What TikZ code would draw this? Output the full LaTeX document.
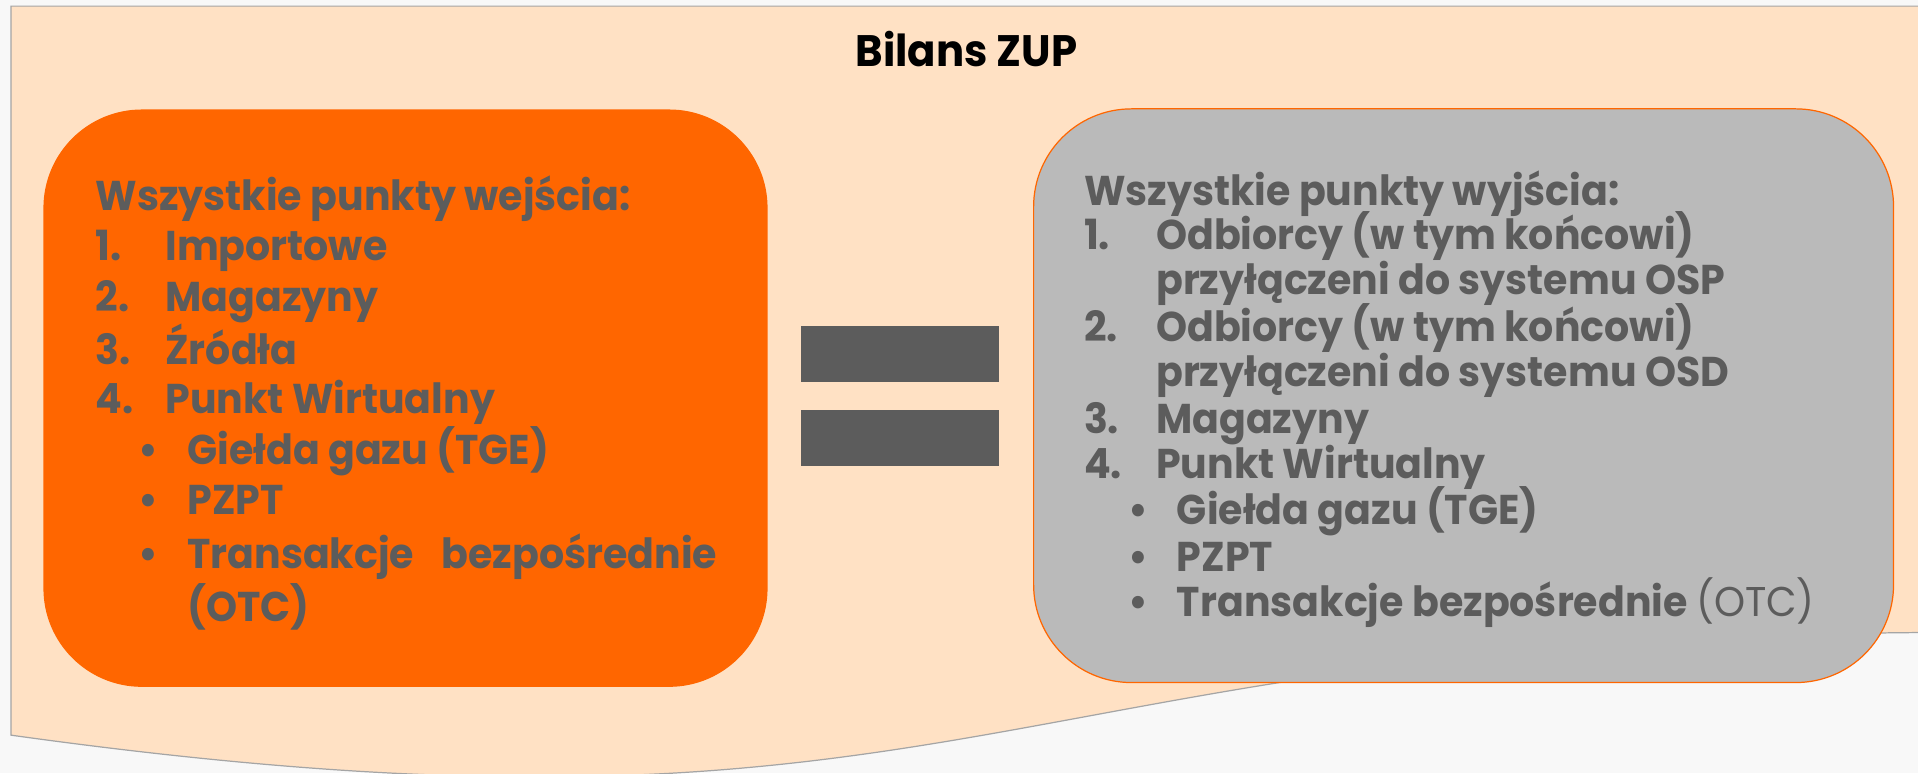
\documentclass[tikz,border=0pt]{standalone}
\usepackage{fontspec}
\setmainfont{Poppins}[FakeStretch=0.95]
\usetikzlibrary{positioning,calc}

\definecolor{pagebg}{RGB}{248,248,248}
\definecolor{peach}{RGB}{255,225,196}
\definecolor{edgegray}{RGB}{165,165,165}
\definecolor{boxorange}{RGB}{255,102,0}
\definecolor{boxgray}{RGB}{186,186,186}
\definecolor{textgray}{RGB}{92,92,92}

\begin{document}
\begin{tikzpicture}[x=1bp,y=-1bp,
  box/.style={draw=boxorange, line width=1bp, rounded corners=80bp, inner sep=0pt},
  bar/.style={fill=textgray, draw=none, minimum width=162bp, minimum height=46bp, inner sep=0pt},
  line/.style={anchor=base west, text=textgray, inner sep=0pt,
    font=\bfseries\fontsize{34bp}{40bp}\selectfont}]
  \useasboundingbox (0,0) rectangle (1568,632);
  \fill[pagebg] (0,0) rectangle (1568,632);
  \clip (0,0) rectangle (1568,632);

  % tlo bilansu
  \draw[fill=peach, draw=edgegray, line width=1bp] (9,5) -- (1603,5) -- (1603,517)
    .. controls (806,517) and (806,712) .. (9,601) -- cycle;
  \node[font=\bfseries\fontsize{36bp}{42bp}\selectfont] (title) at (790,40) {Bilans ZUP};

  % wejscia
  \node[box, fill=boxorange, minimum width=591bp, minimum height=471bp] (entry) at (331.5,325.5) {};
  \node[line] (entryhead) at (78,172) {Wszystkie punkty wejścia:};
  \foreach \y/\n/\t [count=\i] in {213/1./Importowe, 255/2./Magazyny, 298/3./Źródła, 338/4./Punkt Wirtualny}{
    \node[line] (entrynum\i) at (78,\y) {\n};
    \node[line] (entryitem\i) at (135,\y) {\t};
  }
  \foreach \y/\t [count=\i] in {380/Giełda gazu (TGE), 421/PZPT, 465/{\makebox[433bp][s]{Transakcje bezpośrednie}}}{
    \node[line] (entrydot\i) at (113,\y) {•};
    \node[line] (entrysub\i) at (153,\y) {\t};
  }
  \node[line] (entryotc) at (153,508) {(OTC)};

  % znak rownosci
  \node[bar] (eqtop) at (736,289.5) {};
  \node[bar, below=22bp of eqtop] (eqbottom) {};

  % wyjscia
  \node[box, fill=boxgray, minimum width=703bp, minimum height=469bp] (exit) at (1196.5,323.5) {};
  \node[line] (exithead) at (886,168) {Wszystkie punkty wyjścia:};
  \foreach \y/\n/\t [count=\i] in {204/1./Odbiorcy (w tym końcowi), 241//przyłączeni do systemu OSP,
      279/2./Odbiorcy (w tym końcowi), 316//przyłączeni do systemu OSD,
      354/3./Magazyny, 391/4./Punkt Wirtualny}{
    \node[line] (exitnum\i) at (886,\y) {\n};
    \node[line] (exititem\i) at (945,\y) {\t};
  }
  \foreach \y/\t [count=\i] in {429/Giełda gazu (TGE), 467/PZPT, 504/{Transakcje bezpośrednie {\mdseries(OTC)}}}{
    \node[line] (exitdot\i) at (922,\y) {•};
    \node[line] (exitsub\i) at (962,\y) {\t};
  }
\end{tikzpicture}
\end{document}
